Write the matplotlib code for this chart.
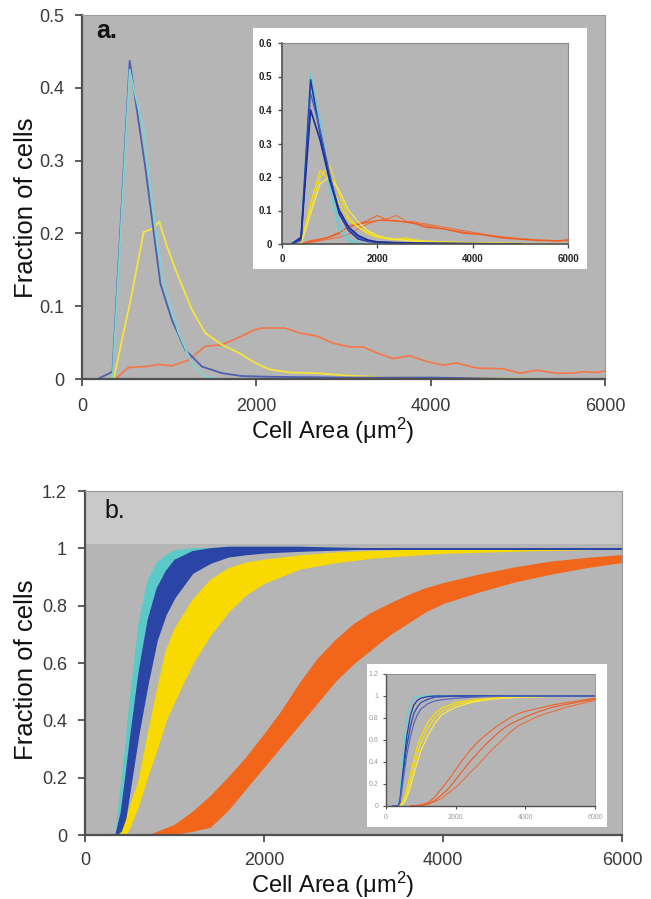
import matplotlib
matplotlib.use("Agg")
import matplotlib.pyplot as plt

plt.rcParams['font.family'] = ['Liberation Sans', 'DejaVu Sans']
plt.rcParams['mathtext.fontset'] = 'custom'
plt.rcParams['mathtext.rm'] = 'Liberation Sans'
plt.rcParams['mathtext.it'] = 'Liberation Sans'

# ---------------- Panel a: main histogram (fraction of cells) ----------------
cyan_a_x = [350, 547, 610, 707, 765, 860, 956, 1109, 1262, 1415, 1600, 3000, 5000]
cyan_a_y = [0.0, 0.425, 0.39, 0.344, 0.283, 0.191, 0.122, 0.063, 0.021, 0.003, 0.0, 0.0, 0.0]
blue_a_x = [180, 350, 547, 727, 899, 1032, 1185, 1377, 1606, 1835, 2200, 3000, 4000, 5000]
blue_a_y = [0.0, 0.010, 0.437, 0.29, 0.131, 0.081, 0.040, 0.017, 0.008, 0.004, 0.003, 0.002, 0.002, 0.0]
yel_a_x = [363, 574, 707, 803, 887, 975, 1090, 1262, 1415, 1606, 1797, 1988, 2157, 2386,
           2692, 3000, 3500, 4500, 5600]
yel_a_y = [0.0, 0.118, 0.202, 0.206, 0.216, 0.182, 0.145, 0.095, 0.063, 0.047, 0.036, 0.022,
           0.013, 0.009, 0.008, 0.005, 0.002, 0.001, 0.0]
ora_a_x = [382, 535, 727, 880, 1032, 1224, 1415, 1606, 1797, 1988, 2080, 2328, 2501, 2692,
           2883, 3074, 3227, 3380, 3571, 3762, 3953, 4144, 4297, 4527, 4833, 5024, 5215,
           5445, 5636, 5750, 5904, 6000]
ora_a_y = [0.0, 0.016, 0.017, 0.020, 0.018, 0.026, 0.045, 0.047, 0.057, 0.068, 0.070, 0.070,
           0.063, 0.059, 0.049, 0.044, 0.044, 0.036, 0.028, 0.032, 0.024, 0.019, 0.022, 0.015,
           0.014, 0.008, 0.012, 0.008, 0.008, 0.010, 0.009, 0.011]

# ---------------- Panel a inset: replicates ----------------
ins_a_x_short = [200, 400, 600, 800, 1000, 1200, 1400, 1600, 1800, 2000, 2400, 3000, 4000, 5000]
ins_a_cyan1 = [0, 0.02, 0.51, 0.36, 0.17, 0.04, 0.01, 0.003, 0, 0, 0, 0, 0, 0]
ins_a_cyan2 = [0, 0.015, 0.48, 0.37, 0.19, 0.06, 0.015, 0.004, 0, 0, 0, 0, 0, 0]
ins_a_blue1 = [0, 0.015, 0.49, 0.33, 0.20, 0.09, 0.04, 0.015, 0.008, 0.005, 0.003, 0.002, 0.001, 0]
ins_a_blue2 = [0, 0.01, 0.45, 0.34, 0.21, 0.10, 0.045, 0.02, 0.010, 0.006, 0.003, 0.002, 0.001, 0]
ins_a_blue3 = [0, 0.02, 0.40, 0.31, 0.19, 0.10, 0.05, 0.025, 0.012, 0.006, 0.004, 0.002, 0.001, 0]
ins_a_x_long = [200, 400, 600, 800, 1000, 1200, 1400, 1600, 1800, 2000, 2200, 2400, 2600, 2800,
                3000, 3400, 3800, 4200, 4600, 5000, 5400, 5800, 6000]
ins_a_yel1 = [0, 0.0, 0.12, 0.22, 0.19, 0.12, 0.07, 0.05, 0.03, 0.02, 0.015, 0.012, 0.015, 0.01,
              0.008, 0.006, 0.004, 0.003, 0.002, 0.002, 0.001, 0.001, 0]
ins_a_yel2 = [0, 0.0, 0.10, 0.20, 0.235, 0.15, 0.08, 0.05, 0.035, 0.022, 0.016, 0.015, 0.018,
              0.012, 0.009, 0.006, 0.005, 0.003, 0.002, 0.001, 0.001, 0, 0]
ins_a_yel3 = [0, 0.0, 0.09, 0.18, 0.20, 0.16, 0.10, 0.065, 0.04, 0.025, 0.018, 0.014, 0.010,
              0.008, 0.007, 0.005, 0.004, 0.003, 0.002, 0.001, 0.001, 0, 0]
ins_a_ora1 = [0, 0.0, 0.010, 0.015, 0.020, 0.030, 0.055, 0.060, 0.070, 0.085, 0.072, 0.070,
              0.065, 0.062, 0.055, 0.045, 0.035, 0.028, 0.020, 0.015, 0.012, 0.010, 0.012]
ins_a_ora2 = [0, 0.0, 0.005, 0.010, 0.015, 0.020, 0.030, 0.045, 0.060, 0.070, 0.075, 0.085,
              0.068, 0.065, 0.060, 0.050, 0.040, 0.030, 0.022, 0.016, 0.012, 0.008, 0.015]
ins_a_ora3 = [0, 0.0, 0.008, 0.012, 0.022, 0.035, 0.050, 0.058, 0.065, 0.070, 0.070, 0.068,
              0.066, 0.060, 0.050, 0.045, 0.032, 0.028, 0.018, 0.014, 0.010, 0.010, 0.010]

# ---------------- Panel b: cumulative bands ----------------
b_x_cb = [340, 400, 450, 500, 600, 700, 800, 900, 1000, 1200, 1400, 1600, 1800, 2000, 2400,
          2800, 3200, 4000, 6000]
cyan_b_hi = [0, 0.17, 0.31, 0.47, 0.74, 0.89, 0.95, 0.975, 0.993, 1.0, 1.0, 1.0, 1.0, 1.0, 1.0,
             1.0, 1.0, 1.0, 1.0]
blue_b_hi = [0, 0.08, 0.20, 0.33, 0.57, 0.75, 0.86, 0.92, 0.96, 0.99, 1.0, 1.005, 1.005, 1.005,
             1.005, 1.002, 1.0, 1.0, 1.0]
blue_b_lo = [0, 0.015, 0.06, 0.16, 0.36, 0.53, 0.68, 0.77, 0.83, 0.915, 0.95, 0.972, 0.98, 0.986,
             0.992, 0.996, 1.0, 1.0, 1.0]
b_x_y = [380, 450, 500, 600, 700, 800, 900, 1000, 1200, 1400, 1600, 1800, 2000, 2400, 2800, 3200,
         4000, 5000, 6000]
yel_b_hi = [0, 0.05, 0.10, 0.19, 0.35, 0.50, 0.64, 0.72, 0.82, 0.89, 0.93, 0.95, 0.96, 0.975,
            0.985, 0.99, 0.998, 1.0, 1.0]
yel_b_lo = [0, 0.0, 0.03, 0.11, 0.21, 0.30, 0.40, 0.47, 0.60, 0.70, 0.78, 0.84, 0.88, 0.93, 0.952,
            0.968, 0.985, 0.994, 1.0]
b_x_o = [720, 800, 1000, 1200, 1400, 1600, 1800, 2000, 2200, 2400, 2600, 2800, 3000, 3200, 3400,
         3600, 3800, 4000, 4400, 4800, 5200, 5600, 6000]
ora_b_hi = [0, 0.01, 0.035, 0.08, 0.135, 0.20, 0.27, 0.35, 0.434, 0.53, 0.615, 0.68, 0.735, 0.775,
            0.806, 0.835, 0.86, 0.878, 0.908, 0.933, 0.953, 0.966, 0.976]
ora_b_lo = [0, 0, 0.005, 0.015, 0.03, 0.09, 0.165, 0.24, 0.315, 0.39, 0.465, 0.54, 0.60, 0.65,
            0.70, 0.74, 0.78, 0.81, 0.85, 0.885, 0.912, 0.935, 0.953]

# ---------------- Panel b inset: replicate CDFs ----------------
ins_b_x_cb = [200, 350, 400, 450, 500, 550, 600, 700, 800, 900, 1000, 1200, 1400, 1700, 2000,
              2500, 3000, 4000, 6000]
ins_b_cyan = [0, 0, 0.10, 0.30, 0.50, 0.68, 0.80, 0.93, 0.98, 0.995, 1, 1, 1, 1, 1, 1, 1, 1, 1]
ins_b_blue1 = [0, 0, 0.05, 0.20, 0.35, 0.50, 0.64, 0.82, 0.92, 0.96, 0.98, 0.995, 1, 1, 1, 1, 1, 1, 1]
ins_b_blue2 = [0, 0, 0.04, 0.17, 0.30, 0.43, 0.55, 0.72, 0.84, 0.90, 0.94, 0.97, 0.99, 0.995, 1,
               1, 1, 1, 1]
ins_b_blue3 = [0, 0, 0.03, 0.14, 0.25, 0.36, 0.47, 0.63, 0.75, 0.83, 0.88, 0.93, 0.955, 0.97,
               0.98, 0.99, 0.995, 1, 1]
ins_b_x_y = [400, 500, 600, 700, 800, 900, 1000, 1200, 1400, 1600, 2000, 2500, 3000, 3500, 4000,
             5000, 6000]
ins_b_yel1 = [0, 0.05, 0.15, 0.28, 0.42, 0.54, 0.63, 0.76, 0.84, 0.89, 0.94, 0.965, 0.98, 0.99,
              0.995, 1, 1]
ins_b_yel2 = [0, 0.03, 0.11, 0.22, 0.35, 0.47, 0.57, 0.71, 0.80, 0.86, 0.92, 0.955, 0.975, 0.985,
              0.99, 1, 1]
ins_b_yel3 = [0, 0.02, 0.08, 0.17, 0.29, 0.40, 0.50, 0.64, 0.75, 0.83, 0.90, 0.945, 0.97, 0.982,
              0.99, 0.998, 1]
ins_b_x_o = [700, 1000, 1200, 1400, 1600, 1800, 2000, 2200, 2400, 2600, 2800, 3000, 3200, 3400,
             3600, 3800, 4000, 4400, 4800, 5200, 5600, 6000]
ins_b_ora1 = [0, 0.01, 0.03, 0.08, 0.16, 0.24, 0.33, 0.42, 0.50, 0.57, 0.63, 0.68, 0.73, 0.77,
              0.81, 0.84, 0.86, 0.89, 0.92, 0.94, 0.96, 0.98]
ins_b_ora2 = [0, 0.005, 0.015, 0.04, 0.07, 0.12, 0.17, 0.23, 0.30, 0.36, 0.43, 0.50, 0.56, 0.62,
              0.68, 0.73, 0.76, 0.82, 0.86, 0.90, 0.93, 0.96]
ins_b_ora3 = [0, 0.005, 0.02, 0.05, 0.10, 0.16, 0.24, 0.32, 0.40, 0.47, 0.54, 0.60, 0.66, 0.71,
              0.75, 0.78, 0.81, 0.86, 0.90, 0.925, 0.95, 0.97]

x_ticks = [0, 2000, 4000, 6000]
a_yticks = [0, 0.1, 0.2, 0.3, 0.4, 0.5]
a_ytick_labels = ['0', '0.1', '0.2', '0.3', '0.4', '0.5']
b_yticks = [0, 0.2, 0.4, 0.6, 0.8, 1.0, 1.2]
b_ytick_labels = ['0', '0.2', '0.4', '0.6', '0.8', '1', '1.2']
ins_a_yticks = [0, 0.1, 0.2, 0.3, 0.4, 0.5, 0.6]
ins_a_ytick_labels = ['0', '0.1', '0.2', '0.3', '0.4', '0.5', '0.6']

# ---------------- styling ----------------
W, H = 651, 899
BG = '#b5b5b5'
BG_LIGHT = '#c9c9c9'
C_CYAN = '#7fd3d3'
C_BLUE = '#4d5fb0'
C_YEL = '#f5e43a'
C_ORA = '#f07a4e'
C_CYAN_B = '#5cc9c9'
C_BLUE_B = '#2b45a6'
C_YEL_B = '#f8da00'
C_ORA_B = '#f2661c'
SPINE = '#505050'
TICKC = '#3a3a3a'


def rect(l, t, r, b):
    return [l / W, 1 - b / H, (r - l) / W, (b - t) / H]


fig = plt.figure(figsize=(W / 100, H / 100), dpi=100)
fig.patch.set_facecolor('white')


def style_main(ax, xpad):
    ax.set_facecolor(BG)
    for s in ['top', 'right']:
        ax.spines[s].set_color('#9a9a9a')
        ax.spines[s].set_linewidth(0.8)
    for s in ['left', 'bottom']:
        ax.spines[s].set_color(SPINE)
        ax.spines[s].set_linewidth(1.6)
    ax.tick_params(axis='both', which='both', direction='out', length=5, width=1.3,
                   color=SPINE, labelcolor=TICKC, labelsize=13)
    ax.tick_params(axis='x', pad=xpad)
    ax.tick_params(axis='y', pad=8)


# ----- Panel a -----
ax_a = fig.add_axes(rect(82, 15, 605, 379))
style_main(ax_a, 9)
ax_a.plot(ora_a_x, ora_a_y, color=C_ORA, lw=1.3)
ax_a.plot(yel_a_x, yel_a_y, color=C_YEL, lw=1.3)
ax_a.plot(blue_a_x, blue_a_y, color=C_BLUE, lw=1.3)
ax_a.plot(cyan_a_x, cyan_a_y, color=C_CYAN, lw=1.3)
ax_a.set_xlim(0, 6000)
ax_a.set_ylim(0, 0.5)
ax_a.set_xticks(x_ticks)
ax_a.set_xticklabels([str(v) for v in x_ticks])
ax_a.set_yticks(a_yticks)
ax_a.set_yticklabels(a_ytick_labels)
fig.text(96 / W, 1 - 38 / H, 'a.', fontsize=18, fontweight='bold', color='#111111',
         ha='left', va='baseline')

# inset a
box_a = fig.add_axes(rect(253, 28, 587, 269))
box_a.set_facecolor('white')
box_a.set_xticks([])
box_a.set_yticks([])
for s in box_a.spines.values():
    s.set_visible(False)

ins_a = fig.add_axes(rect(282, 43, 568, 244))
ins_a.set_facecolor(BG)
for s in ['top', 'right']:
    ins_a.spines[s].set_color('#8a8a8a')
    ins_a.spines[s].set_linewidth(0.8)
for s in ['left', 'bottom']:
    ins_a.spines[s].set_color(SPINE)
    ins_a.spines[s].set_linewidth(1.2)
ins_a.tick_params(axis='both', direction='out', length=3, width=1, color=SPINE,
                  labelsize=7, labelcolor='#222222', pad=4)
for ys, c in [(ins_a_ora1, '#f0642a'), (ins_a_ora2, '#ec7040'), (ins_a_ora3, '#f25a1e')]:
    ins_a.plot(ins_a_x_long, ys, color=c, lw=0.8)
for ys, c in [(ins_a_yel1, '#f7e000'), (ins_a_yel2, '#f3dc20'), (ins_a_yel3, '#fae84a')]:
    ins_a.plot(ins_a_x_long, ys, color=c, lw=0.9)
for ys, c in [(ins_a_cyan1, '#60d0d0'), (ins_a_cyan2, '#70c8d8')]:
    ins_a.plot(ins_a_x_short, ys, color=c, lw=0.9)
for ys, c, lw in [(ins_a_blue1, '#1f3aa8', 1.2), (ins_a_blue2, '#4a5cb8', 0.9),
                  (ins_a_blue3, '#1c2f98', 1.2)]:
    ins_a.plot(ins_a_x_short, ys, color=c, lw=lw)
ins_a.set_xlim(0, 6000)
ins_a.set_ylim(0, 0.6)
ins_a.set_xticks(x_ticks)
ins_a.set_xticklabels([str(v) for v in x_ticks])
ins_a.set_yticks(ins_a_yticks)
ins_a.set_yticklabels(ins_a_ytick_labels)
for lab in ins_a.get_xticklabels() + ins_a.get_yticklabels():
    lab.set_fontweight('bold')

# ----- Panel b -----
ax_b = fig.add_axes(rect(85, 491, 622, 835))
style_main(ax_b, 7)
ax_b.axhspan(1.015, 1.2, color=BG_LIGHT, lw=0, zorder=0)
ax_b.fill_between(b_x_o, ora_b_lo, ora_b_hi, color=C_ORA_B, lw=1.0, edgecolor=C_ORA_B)
ax_b.fill_between(b_x_y, yel_b_lo, yel_b_hi, color=C_YEL_B, lw=1.0, edgecolor=C_YEL_B)
ax_b.fill_between(b_x_cb, blue_b_hi, cyan_b_hi, color=C_CYAN_B, lw=1.0, edgecolor=C_CYAN_B)
ax_b.fill_between(b_x_cb, blue_b_lo, blue_b_hi, color=C_BLUE_B, lw=1.0, edgecolor=C_BLUE_B)
ax_b.set_xlim(0, 6000)
ax_b.set_ylim(0, 1.2)
ax_b.set_xticks(x_ticks)
ax_b.set_xticklabels([str(v) for v in x_ticks])
ax_b.set_yticks(b_yticks)
ax_b.set_yticklabels(b_ytick_labels)
fig.text(104 / W, 1 - 518 / H, 'b.', fontsize=18, color='#111111', ha='left', va='baseline')

# inset b
box_b = fig.add_axes(rect(367, 664, 607, 827))
box_b.set_facecolor('white')
box_b.set_xticks([])
box_b.set_yticks([])
for s in box_b.spines.values():
    s.set_visible(False)

ins_b = fig.add_axes(rect(386, 674, 595, 806))
ins_b.set_facecolor(BG)
for s in ['top', 'right']:
    ins_b.spines[s].set_color('#8a8a8a')
    ins_b.spines[s].set_linewidth(0.6)
for s in ['left', 'bottom']:
    ins_b.spines[s].set_color(SPINE)
    ins_b.spines[s].set_linewidth(1.0)
ins_b.tick_params(axis='both', direction='out', length=2.5, width=0.8, color=SPINE,
                  labelsize=5, labelcolor='#9a9a9a', pad=3)
for ys, c in [(ins_b_ora1, '#f0642a'), (ins_b_ora2, '#ec7040'), (ins_b_ora3, '#f25a1e')]:
    ins_b.plot(ins_b_x_o, ys, color=c, lw=0.8)
for ys, c in [(ins_b_yel1, '#f7e000'), (ins_b_yel2, '#f3dc20'), (ins_b_yel3, '#fae84a')]:
    ins_b.plot(ins_b_x_y, ys, color=c, lw=0.9)
ins_b.plot(ins_b_x_cb, ins_b_cyan, color='#60d0d0', lw=0.9)
for ys, c in [(ins_b_blue1, '#1f3aa8'), (ins_b_blue2, '#3048b0'), (ins_b_blue3, '#5a68b8')]:
    ins_b.plot(ins_b_x_cb, ys, color=c, lw=0.9)
ins_b.set_xlim(0, 6000)
ins_b.set_ylim(0, 1.2)
ins_b.set_xticks(x_ticks)
ins_b.set_xticklabels([str(v) for v in x_ticks])
ins_b.set_yticks(b_yticks)
ins_b.set_yticklabels(b_ytick_labels)

# axis labels
for yc in (208, 670):
    fig.text(26 / W, 1 - yc / H, 'Fraction of cells', rotation=90, fontsize=18.5,
             color='#111111', ha='center', va='center')
for yb in (439, 893):
    fig.text(333 / W, 1 - yb / H, 'Cell Area (μm$^{2}$)', fontsize=17, color='#111111',
             ha='center', va='baseline')

fig.savefig('out.png', dpi=100, facecolor='white')
